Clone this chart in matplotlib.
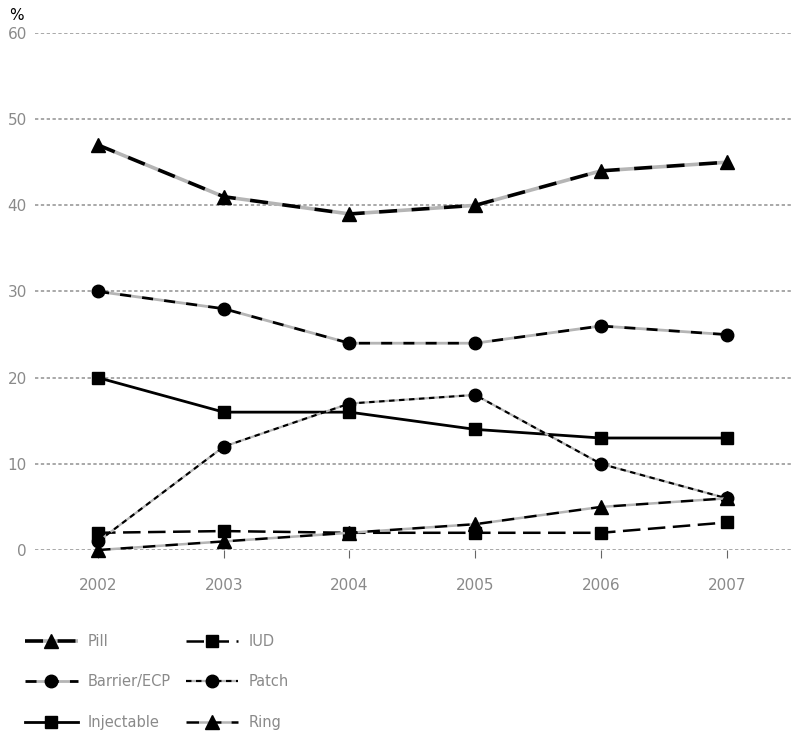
import matplotlib
matplotlib.use("Agg")
import matplotlib.pyplot as plt

years = [2002, 2003, 2004, 2005, 2006, 2007]
pill = [47, 41, 39, 40, 44, 45]
barrier = [30, 28, 24, 24, 26, 25]
injectable = [20, 16, 16, 14, 13, 13]
iud = [2, 2.2, 2, 2, 2, 3.2]
patch = [1, 12, 17, 18, 10, 6]
ring = [0, 1, 2, 3, 5, 6]
yticks = [0, 10, 20, 30, 40, 50, 60]

fig = plt.figure(figsize=(8, 7.46), dpi=100)
ax = fig.add_axes([0.044, 0.2627, 0.946, 0.6931])

grid_c = '#9a9a9a'
for y in yticks:
    ax.axhline(y, color=grid_c, lw=1.2, ls=(0, (2, 1.5)), zorder=0)

gap = '#b5b5b5'
series = [
    ("Pill", pill, dict(color='black', lw=2.6, ls=(0, (5, 4)), gapcolor=gap, marker='^', ms=10)),
    ("Barrier/ECP", barrier, dict(color='black', lw=2.0, ls=(0, (4, 4)), gapcolor=gap, marker='o', ms=9)),
    ("Injectable", injectable, dict(color='black', lw=2.0, ls='-', marker='s', ms=9)),
    ("IUD", iud, dict(color='black', lw=1.8, ls=(0, (7, 3)), marker='s', ms=9)),
    ("Patch", patch, dict(color='black', lw=1.6, ls=(0, (2.5, 2)), gapcolor=gap, marker='o', ms=9)),
    ("Ring", ring, dict(color='black', lw=1.8, ls=(0, (5, 4)), gapcolor=gap, marker='^', ms=10)),
]
handles = []
for name, vals, kw in series:
    h, = ax.plot(years, vals, label=name, clip_on=False, zorder=3, **kw)
    handles.append(h)

ax.set_xlim(2001.5, 2007.52)
ax.set_ylim(0, 60)
for s in ax.spines.values():
    s.set_visible(False)
ax.set_yticks(yticks)
ax.set_xticks(years)
ax.tick_params(axis='y', length=0, labelcolor='#8a8a8a', labelsize=11, pad=6)
ax.tick_params(axis='x', length=6, color='#666666', labelcolor='#8a8a8a', labelsize=11, pad=14)
fig.text(0.012, 0.979, '%', fontsize=11, color='black', ha='left', va='center')

fig.legend(handles=handles, loc='upper left', bbox_to_anchor=(0.015, 0.168), ncol=2,
           frameon=False, fontsize=10.5, labelcolor='#8a8a8a', handlelength=3.6,
           columnspacing=1.0, labelspacing=1.75, handletextpad=0.7)

fig.savefig('out.png', dpi=100)
